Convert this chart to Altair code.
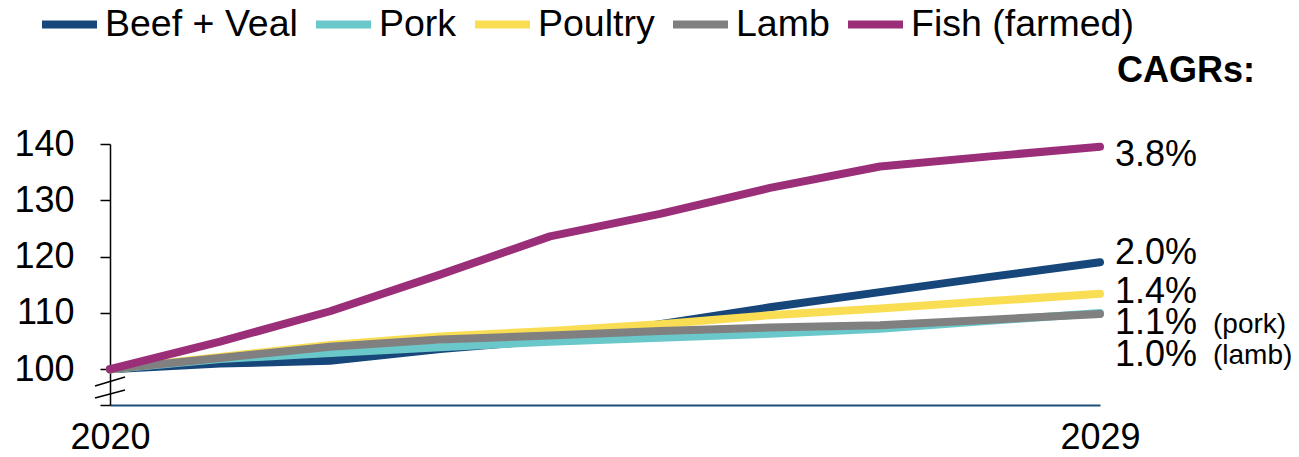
import altair as alt
import pandas as pd

years = [2020, 2021, 2022, 2023, 2024, 2025, 2026, 2027, 2028, 2029]
series = ["Beef + Veal", "Pork", "Poultry", "Lamb", "Fish (farmed)"]
colors = ["#17467A", "#6AC8CA", "#F9DE53", "#808080", "#9B2E78"]

beef = [100, 101.0, 101.5, 103.6, 105.2, 108.0, 111.0, 113.7, 116.4, 119.0]
pork = [100, 101.8, 102.9, 103.9, 104.9, 105.6, 106.3, 107.2, 108.6, 110.0]
poultry = [100, 102.2, 104.3, 105.8, 106.8, 108.0, 109.6, 110.8, 112.1, 113.4]
lamb = [100, 102.0, 104.0, 105.3, 106.0, 106.8, 107.4, 107.8, 108.8, 109.8]
fish = [100, 104.9, 110.3, 116.8, 123.6, 127.6, 132.2, 136.0, 137.8, 139.5]

cagr_labels = ["3.8%", "2.0%", "1.4%", "1.1%", "1.0%"]
cagr_notes = ["(pork)", "(lamb)"]

values = [beef, pork, poultry, lamb, fish]
rows = []
for name, vals in zip(series, values):
    for yr, v in zip(years, vals):
        rows.append({"year": yr, "series": name, "value": v})
df = pd.DataFrame(rows)

FONT = "Liberation Sans"
YMIN = 93.65

x_enc = alt.X("year:Q", scale=alt.Scale(domain=[2020, 2029], nice=False, zero=False),
              axis=alt.Axis(values=[2020, 2029], format="d", title=None, grid=False,
                            ticks=False, labelFontSize=36, labelFont=FONT, labelColor="#000000",
                            domainColor="#1F4E7A", domainWidth=2, labelPadding=15,
                            labelFlush=False))
y_enc = alt.Y("value:Q", scale=alt.Scale(domain=[YMIN, 140], nice=False, zero=False),
              axis=alt.Axis(values=[YMIN, 100, 110, 120, 130, 140], title=None, grid=False,
                            labelExpr="datum.value < 95 ? '' : datum.label",
                            labelFontSize=36, labelFont=FONT, labelColor="#000000",
                            domainColor="#000000", domainWidth=1.5, tickColor="#000000",
                            tickWidth=1.5, tickSize=10, labelPadding=26))
color_enc = alt.Color("series:N", scale=alt.Scale(domain=series, range=colors),
                      legend=alt.Legend(title=None, orient="none", direction="horizontal",
                                        legendX=-72, legendY=-151, symbolType="stroke",
                                        symbolStrokeWidth=8, symbolSize=3025,
                                        labelFontSize=37.5, labelFont=FONT, labelColor="#000000",
                                        labelOffset=4, columnPadding=2, padding=0,
                                        labelLimit=400))

layers = []
for name in series:
    layers.append(
        alt.Chart(df).transform_filter(alt.datum.series == name)
        .mark_line(strokeWidth=8, strokeCap="round", strokeJoin="round")
        .encode(x=x_enc, y=y_enc, color=color_enc)
    )

one = alt.Data(values=[{"a": 1}])

def txt(t, x, y, size=36, bold=False):
    return alt.Chart(one).mark_text(
        align="left", baseline="middle", font=FONT, fontSize=size,
        fontWeight="bold" if bold else "normal", color="#000000"
    ).encode(x=alt.value(x), y=alt.value(y), text=alt.value(t))

ann = [
    txt("CAGRs:", 1007, -73, 36, True),
    txt(cagr_labels[0], 1005, 11),
    txt(cagr_labels[1], 1005, 109),
    txt(cagr_labels[2], 1005, 148),
    txt(cagr_labels[3], 1005, 179),
    txt(cagr_labels[4], 1005, 211),
    txt(cagr_notes[0], 1103, 181, 28),
    txt(cagr_notes[1], 1103, 212, 28),
]

breaks = [
    alt.Chart(one).mark_rule(color="#000000", strokeWidth=1.5).encode(
        x=alt.value(-15), x2=alt.value(15), y=alt.value(242), y2=alt.value(233)),
    alt.Chart(one).mark_rule(color="#000000", strokeWidth=1.5).encode(
        x=alt.value(-15), x2=alt.value(15), y=alt.value(254), y2=alt.value(246)),
]

chart = alt.layer(*layers, *breaks, *ann).properties(
    width=990, height=261,
    autosize=alt.AutoSizeParams(type="none"),
    padding={"left": 102, "top": 136, "right": 191, "bottom": 44},
    background="#FFFFFF",
).configure_view(stroke=None)

chart.save("out.html", embed_options={"renderer": "svg", "actions": False})
